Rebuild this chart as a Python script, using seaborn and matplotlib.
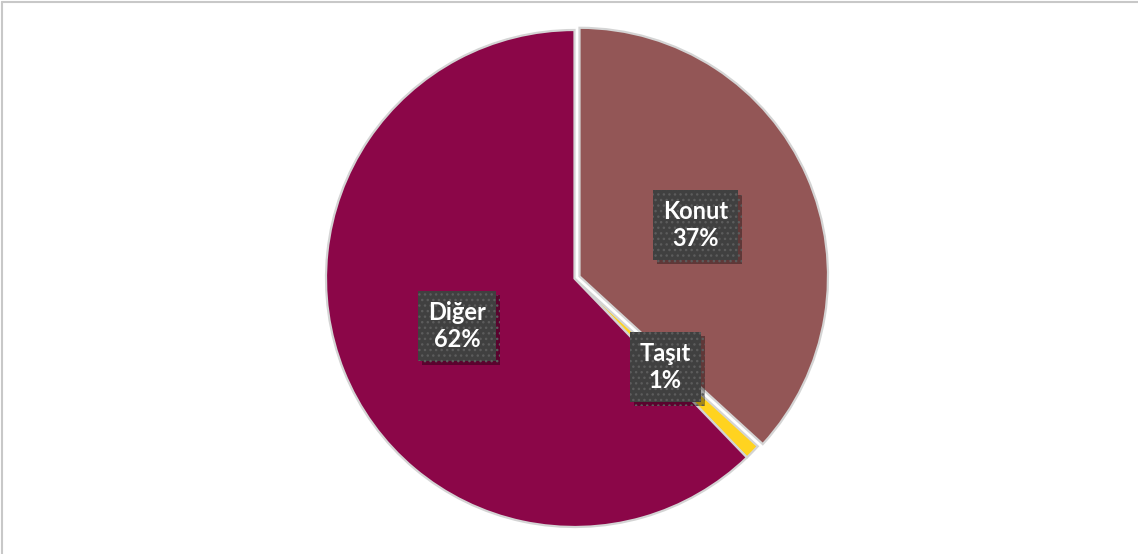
import matplotlib
matplotlib.use("Agg")
import matplotlib.pyplot as plt
import matplotlib.patheffects as pe
from matplotlib.lines import Line2D
import seaborn as sns

sns.set_theme(style="white")
plt.rcParams['font.family'] = ['Lato', 'DejaVu Sans']

# veri
labels = ["Konut", "Taşıt", "Diğer"]
values = [36.8, 1.0, 62.2]
pct_text = ["37%", "1%", "62%"]
colors = ["#935656", "#FFD320", "#8B0648"]
explode = [0.022, 0.0, 0.0]

fig = plt.figure(figsize=(11.38, 5.54), dpi=100)
fig.patch.set_facecolor("white")

# eksen: merkez ~ (574, 278) px, yarıçap ~ 248 px
W, H = 1138, 554
R = 248.5
side = 2.2 * R
ax = fig.add_axes([(574.5 - side / 2) / W, (H - 278.5 - side / 2) / H, side / W, side / H])

wedges, _, autotexts = ax.pie(
    values, colors=colors, explode=explode, startangle=90, counterclock=False,
    radius=1.0, autopct="%1.0f%%", pctdistance=0.51,
    wedgeprops=dict(edgecolor="#d4d4d4", linewidth=1.6),
)
ax.set_xlim(-1.1, 1.1)
ax.set_ylim(-1.1, 1.1)
ax.set_aspect("equal")
ax.axis("off")

for t, lab, pct in zip(autotexts, labels, pct_text):
    t.set_text(f"{lab}\n{pct}")
    t.set(ha="center", va="center", fontsize=17, fontweight="bold",
          color="white", linespacing=1.2, zorder=5)
    t.set_bbox(dict(boxstyle="square,pad=0.42", facecolor="#404040",
                    edgecolor="#5c5c5c", linewidth=0, hatch="..."))
    t.get_bbox_patch().set_path_effects([
        pe.SimplePatchShadow(offset=(3, -3), shadow_rgbFace="black", alpha=0.35),
        pe.Normal(),
    ])

# çerçeve (üst ve sol)
fig.add_artist(Line2D([2 / W, 1], [1 - 2 / H, 1 - 2 / H], transform=fig.transFigure,
                      color="#c8c8c8", linewidth=1.5))
fig.add_artist(Line2D([2 / W, 2 / W], [0, 1 - 2 / H], transform=fig.transFigure,
                      color="#c8c8c8", linewidth=1.5))

fig.savefig("out.png", dpi=100, facecolor="white")
